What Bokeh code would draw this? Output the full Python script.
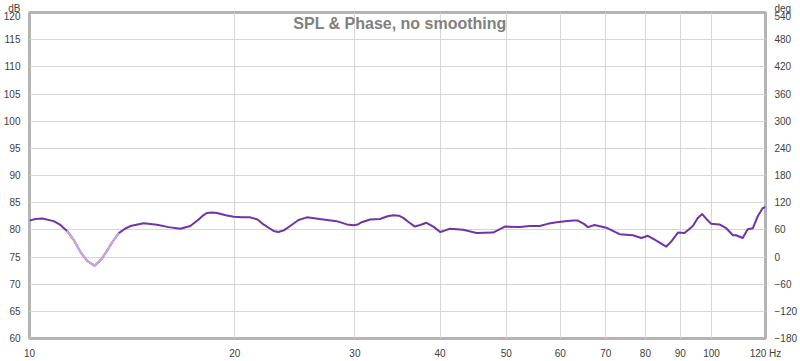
from bokeh.plotting import figure
from bokeh.models import LinearAxis, Range1d, FixedTicker, Label
from bokeh.embed import file_html
from bokeh.resources import INLINE

# ---- data ----
freq = [10.0, 10.2, 10.44, 10.85, 11.1, 11.35, 11.6, 11.88, 12.15, 12.46, 12.75, 13.0,
        13.25, 13.52, 13.8, 14.06, 14.7, 15.38, 16.0, 16.64, 17.21, 17.7, 17.95, 18.2, 18.5,
        18.83, 19.4, 19.92, 20.5, 21.07, 21.6, 22.03, 22.54, 22.8, 23.17, 23.6, 24.11, 24.8,
        25.51, 26.97, 28.2, 29.2, 29.84, 30.3, 30.7, 31.57, 32.65, 33.5, 34.15, 34.8, 35.32,
        36.0, 36.74, 37.4, 38.21, 39.2, 40.0, 40.5, 41.35, 43.24, 45.24, 47.84, 49.77, 52.36,
        54.15, 56.0, 57.5, 59.27, 61.0, 62.66, 63.7, 65.0, 65.9, 67.4, 70.1, 73.3, 76.7,
        78.9, 80.7, 83.0, 85.85, 87.5, 89.3, 91.3, 93.9, 95.5, 96.9, 98.3, 99.9, 102.7,
        105.1, 107.5, 108.7, 111.1, 113.0, 115.0, 116.9, 118.9, 120.0]
spl = [81.7, 82.0, 82.1, 81.6, 80.9, 79.8, 78.2, 75.9, 74.3, 73.4, 74.6, 76.2,
       77.9, 79.4, 80.2, 80.7, 81.2, 80.95, 80.5, 80.2, 80.7, 81.9, 82.6, 83.1, 83.2,
       83.1, 82.7, 82.4, 82.3, 82.3, 81.9, 81.0, 80.2, 79.8, 79.6, 79.9, 80.7, 81.8,
       82.3, 81.9, 81.6, 81.0, 80.85, 81.0, 81.4, 81.9, 82.0, 82.5, 82.7, 82.6, 82.2,
       81.4, 80.6, 80.9, 81.3, 80.5, 79.6, 79.8, 80.2, 80.0, 79.4, 79.5, 80.6, 80.5,
       80.7, 80.7, 81.1, 81.4, 81.6, 81.7, 81.7, 81.1, 80.5, 80.9, 80.4, 79.2, 79.0,
       78.5, 78.9, 78.0, 76.9, 78.0, 79.5, 79.4, 80.7, 82.2, 82.9, 82.0, 81.1, 81.0,
       80.3, 79.0, 79.0, 78.5, 80.1, 80.3, 82.5, 84.0, 84.2]
light_start, light_end = 5, 13  # lighter drawn part of the trace (indices)

x_ticks = [10, 20, 30, 40, 50, 60, 70, 80, 90, 100, 120]
x_labels = ["10", "20", "30", "40", "50", "60", "70", "80", "90", "100", "120 Hz"]
db_ticks = list(range(60, 121, 5))
deg_ticks = list(range(-180, 541, 60))

TXT = "#404040"
FONT = "Liberation Sans"

p = figure(width=800, height=361, x_axis_type="log", x_range=(10, 120), y_range=(60, 120),
           output_backend="svg", toolbar_location=None,
           min_border_left=29, min_border_right=35, min_border_top=12, min_border_bottom=16)
p.background_fill_color = "white"
p.border_fill_color = "white"
p.outline_line_color = "#b4b4b4"
p.outline_line_width = 3

p.extra_y_ranges = {"deg": Range1d(-180, 540)}
right = LinearAxis(y_range_name="deg", ticker=FixedTicker(ticks=deg_ticks))
p.add_layout(right, "right")

for ax in [p.xaxis[0], p.yaxis[0], right]:
    ax.axis_line_color = None
    ax.major_tick_line_color = None
    ax.minor_tick_line_color = None
    ax.major_label_text_font = FONT
    ax.major_label_text_font_size = "10px"
    ax.major_label_text_color = TXT
    ax.major_label_standoff = 3

p.xaxis[0].ticker = FixedTicker(ticks=x_ticks)
p.xaxis[0].major_label_overrides = {t: l for t, l in zip(x_ticks, x_labels)}
p.yaxis[0].ticker = FixedTicker(ticks=db_ticks)
p.yaxis[0].major_label_overrides = {120: "dB\n120"}
right.major_label_overrides = {540: "deg\n540"}
p.yaxis[0].major_label_text_line_height = 0.8
right.major_label_text_line_height = 0.8

p.xgrid.ticker = FixedTicker(ticks=x_ticks)
p.ygrid.ticker = FixedTicker(ticks=db_ticks)
p.xgrid.grid_line_color = "#d6d6d6"
p.ygrid.grid_line_color = "#d6d6d6"

p.line(freq, spl, line_color="#7232a8", line_width=2, line_join="round")
p.line(freq[light_start:light_end + 1], spl[light_start:light_end + 1],
       line_color="#c7aade", line_width=2, line_join="round")

p.add_layout(Label(x=34.93, y=118.0, text="SPL & Phase, no smoothing", text_align="center",
                   text_baseline="alphabetic", text_font=FONT, text_font_size="16px",
                   text_font_style="bold", text_color="#808080"))

open("out.html", "w").write(file_html(p, INLINE))
